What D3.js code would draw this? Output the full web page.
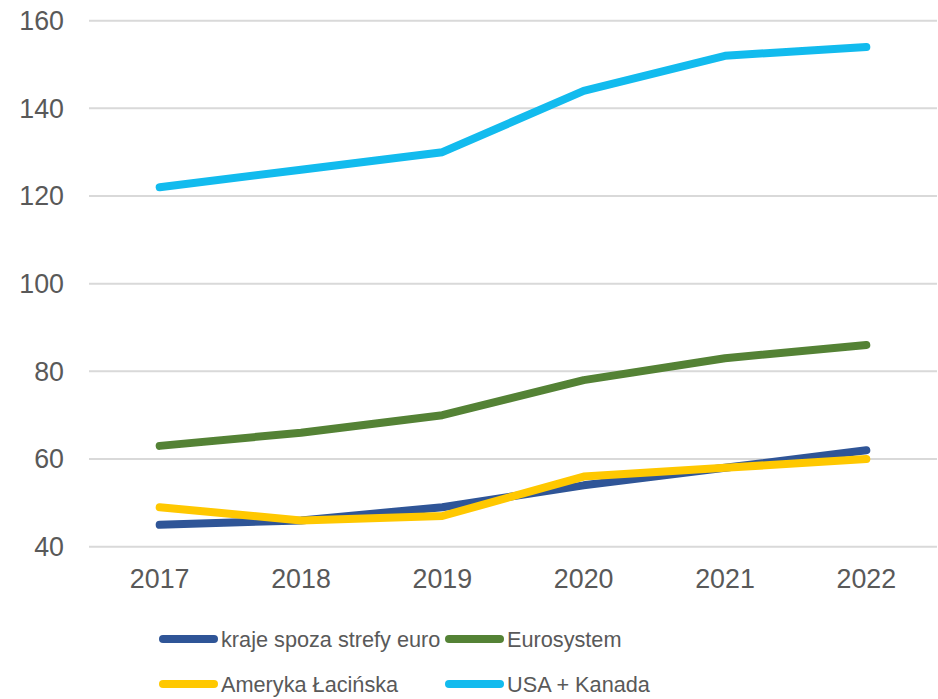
<!DOCTYPE html>
<html>
<head>
<meta charset="utf-8">
<script src="https://cdn.jsdelivr.net/npm/d3@7"></script>
<style>
  body { margin: 0; background: #fff; }
  text { font-family: "Liberation Sans", Arial, sans-serif; fill: #595959; }
</style>
</head>
<body>
<div id="chart"></div>
<script>
var years = ['2017', '2018', '2019', '2020', '2021', '2022']
var yTicks = [40, 60, 80, 100, 120, 140, 160]

var krajeSpoza = [45, 46, 49, 54, 58, 62]
var eurosystem = [63, 66, 70, 78, 83, 86]
var amerykaLac = [49, 46, 47, 56, 58, 60]
var usaKanada = [122, 126, 130, 144, 152, 154]

var seriesNames = ['kraje spoza strefy euro', 'Eurosystem', 'Ameryka Łacińska', 'USA + Kanada']
var seriesColors = ['#2f5597', '#548235', '#ffc800', '#12bbee']
var series = [krajeSpoza, eurosystem, amerykaLac, usaKanada]

var W = 938, H = 699
var margin = {left: 89, right: 1, top: 20.7, bottom: 152.3}

var svg = d3.select('#chart').append('svg')
  .attr('width', W).attr('height', H)

var x = d3.scalePoint().domain(years)
  .range([margin.left, W - margin.right]).padding(0.5)
var y = d3.scaleLinear().domain([40, 160])
  .range([H - margin.bottom, margin.top])

// gridlines
svg.append('g').selectAll('line').data(yTicks).join('line')
  .attr('x1', margin.left).attr('x2', W - margin.right)
  .attr('y1', d => y(d)).attr('y2', d => y(d))
  .attr('stroke', '#d9d9d9').attr('stroke-width', 2)

// y labels
svg.append('g').selectAll('text').data(yTicks).join('text')
  .attr('x', 64).attr('y', d => y(d))
  .attr('dy', '0.35em').attr('text-anchor', 'end')
  .style('font-size', '26.8px')
  .text(d => d)

// x labels
svg.append('g').selectAll('text').data(years).join('text')
  .attr('x', d => x(d)).attr('y', 588)
  .attr('text-anchor', 'middle')
  .style('font-size', '26.8px')
  .text(d => d)

var line = d3.line()
  .x((d, i) => x(years[i]))
  .y(d => y(d))

svg.append('g').selectAll('path').data(series).join('path')
  .attr('d', d => line(d))
  .attr('fill', 'none')
  .attr('stroke', (d, i) => seriesColors[i])
  .attr('stroke-width', 8)
  .attr('stroke-linecap', 'round')
  .attr('stroke-linejoin', 'round')

// legend
var legendPos = [[160, 639], [446, 639], [160, 684], [446, 684]]
var leg = svg.append('g').selectAll('g').data(seriesNames).join('g')
  .attr('transform', (d, i) => 'translate(' + legendPos[i][0] + ',' + legendPos[i][1] + ')')
leg.append('line')
  .attr('x1', 3).attr('x2', 54)
  .attr('stroke', (d, i) => seriesColors[i])
  .attr('stroke-width', 8)
  .attr('stroke-linecap', 'round')
leg.append('text')
  .attr('x', 61).attr('dy', '0.35em')
  .style('font-size', '21.7px')
  .text(d => d)
</script>
</body>
</html>
